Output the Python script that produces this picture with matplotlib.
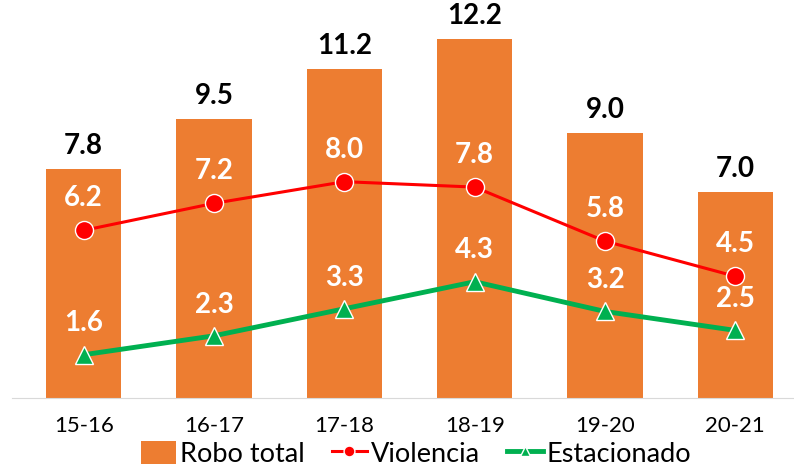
import numpy as np
import matplotlib.pyplot as plt

periodos = ["15-16", "16-17", "17-18", "18-19", "19-20", "20-21"]
robo_total = [7.8, 9.5, 11.2, 12.2, 9.0, 7.0]
violencia = [6.2, 7.2, 8.0, 7.8, 5.8, 4.5]
estacionado = [1.6, 2.3, 3.3, 4.3, 3.2, 2.5]

naranja = "#ED7D31"
rojo = "#FF0000"
verde = "#00B050"

plt.rcParams['font.family'] = ['Lato', 'DejaVu Sans']

W, H = 794, 469
fig = plt.figure(figsize=(W / 100, H / 100), dpi=100)
# plot area in pixels: left 12, right 794, top 10, bottom 398
ax = fig.add_axes([12 / W, (H - 398) / H, (794 - 12) / W, (398 - 10) / H])
ax2 = ax.twinx()

x = np.arange(len(periodos))
ax.bar(x, robo_total, width=0.58, color=naranja, label="Robo total", zorder=1)
ax.set_xlim(-0.55, 5.45)
ax.set_ylim(0, 388 / 29.4)
ax2.set_ylim(0, 388 / 27.04)

ax2.plot(x, violencia, color=rojo, lw=2.2, marker="o", ms=13,
         mfc=rojo, mec="white", mew=1, label="Violencia")
ax2.plot(x, estacionado, color=verde, lw=3.5, marker="^", ms=13,
         mfc=verde, mec="white", mew=1, label="Estacionado")

for xi, v in zip(x, robo_total):
    ax.annotate(f"{v:.1f}", (xi, v), xytext=(0, 16.5), textcoords="offset points",
                ha="center", va="center", fontsize=20, fontweight="bold", color="black")
for xi, v in zip(x, violencia):
    ax2.annotate(f"{v:.1f}", (xi, v), xytext=(0, 23), textcoords="offset points",
                 ha="center", va="center", fontsize=20, fontweight="bold", color="white")
for xi, v in zip(x, estacionado):
    ax2.annotate(f"{v:.1f}", (xi, v), xytext=(0, 22.5), textcoords="offset points",
                 ha="center", va="center", fontsize=20, fontweight="bold", color="white")

ax.set_xticks(x)
ax.set_xticklabels(periodos, fontsize=16)
ax.tick_params(axis="x", length=0, pad=13)
ax.set_yticks([])
ax2.set_yticks([])
for a in (ax, ax2):
    for s in ("top", "left", "right"):
        a.spines[s].set_visible(False)
    a.spines["bottom"].set_color("#D9D9D9")
ax2.spines["bottom"].set_visible(False)

h1, l1 = ax.get_legend_handles_labels()
h2, l2 = ax2.get_legend_handles_labels()
fig.legend(h1 + h2, l1 + l2, loc="center", bbox_to_anchor=(416 / W, 1 - 454 / H),
           ncol=3, frameon=False, fontsize=19.5, handlelength=1.3, handleheight=0.9,
           handletextpad=0.15, columnspacing=1.0, borderaxespad=0, markerscale=0.6)

fig.savefig("out.png", dpi=100)
